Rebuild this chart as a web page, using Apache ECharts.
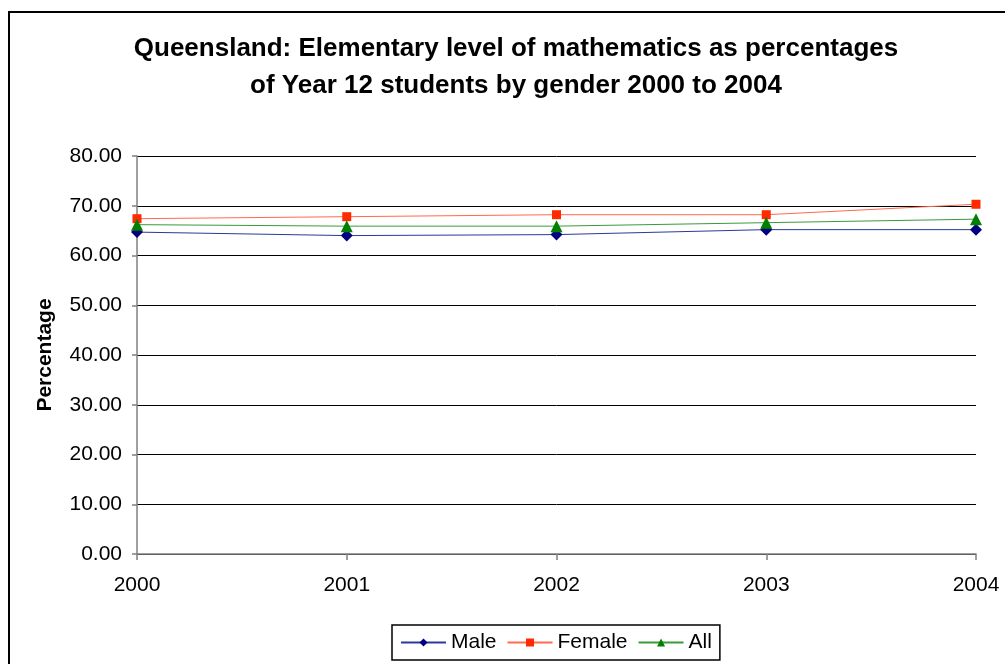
<!DOCTYPE html>
<html>
<head>
<meta charset="utf-8">
<script src="https://cdn.jsdelivr.net/npm/echarts@6/dist/echarts.min.js"></script>
<style>
html,body{margin:0;padding:0;background:#fff;}
#chart{width:1005px;height:664px;}
</style>
</head>
<body>
<div id="chart"></div>
<script>
const years = ['2000', '2001', '2002', '2003', '2004'];
const male = [64.7, 64.0, 64.2, 65.2, 65.2];
const female = [67.4, 67.8, 68.2, 68.2, 70.3];
const all = [66.2, 65.9, 65.9, 66.6, 67.3];
const yTicks = { min: 0, max: 80, interval: 10 };

const font = 'Liberation Sans, Arial, sans-serif';
const chart = echarts.init(document.getElementById('chart'));
chart.setOption({
  backgroundColor: '#fff',
  animation: false,
  title: {
    text: 'Queensland: Elementary level of mathematics as percentages\nof Year 12 students by gender 2000 to 2004',
    left: 511, top: 25, textAlign: 'center',
    textStyle: { fontFamily: font, fontWeight: 'bold', fontSize: 26, lineHeight: 37, color: '#000' }
  },
  graphic: [{
    type: 'rect', shape: { x: 9, y: 12, width: 1010, height: 670 },
    style: { fill: 'none', stroke: '#000', lineWidth: 2 }, silent: true
  }],
  legend: {
    top: 625, left: 392,
    itemWidth: 45, itemHeight: 10, itemGap: 10,
    borderColor: '#000', borderWidth: 1.5, padding: [7, 8, 7, 8],
    textStyle: { fontFamily: font, fontSize: 21, color: '#000' },
    data: ['Male', 'Female', 'All']
  },
  grid: { left: 137, right: 29, top: 156, bottom: 110 },
  xAxis: {
    type: 'category', data: years, boundaryGap: false,
    axisLine: { lineStyle: { color: '#808080', width: 1.5 } },
    axisTick: { show: true, length: 6, lineStyle: { color: '#808080', width: 1.5 } },
    axisLabel: { fontFamily: font, fontSize: 21, color: '#000', margin: 21 },
    splitLine: { show: false }
  },
  yAxis: {
    type: 'value', min: yTicks.min, max: yTicks.max, interval: yTicks.interval,
    name: 'Percentage', nameLocation: 'middle', nameGap: 81, nameRotate: 90,
    nameTextStyle: { fontFamily: font, fontWeight: 'bold', fontSize: 21, color: '#000' },
    axisLine: { show: true, lineStyle: { color: '#808080', width: 1.5 } },
    axisTick: { show: true, length: 5, lineStyle: { color: '#808080', width: 1.5 } },
    axisLabel: { fontFamily: font, fontSize: 21, color: '#000', margin: 15,
      formatter: v => v.toFixed(2) },
    splitLine: { lineStyle: { color: '#000', width: 1 } }
  },
  series: [
    { name: 'Male', type: 'line', data: male, symbol: 'diamond', symbolSize: 12,
      itemStyle: { color: '#000080' }, lineStyle: { color: '#2a3a9a', width: 1 } },
    { name: 'Female', type: 'line', data: female, symbol: 'rect', symbolSize: 9,
      itemStyle: { color: '#ff2a00' }, lineStyle: { color: '#ff6a50', width: 1 } },
    { name: 'All', type: 'line', data: all, symbol: 'triangle', symbolSize: 12,
      itemStyle: { color: '#008000' }, lineStyle: { color: '#3a9a3a', width: 1 } }
  ]
});
</script>
</body>
</html>
